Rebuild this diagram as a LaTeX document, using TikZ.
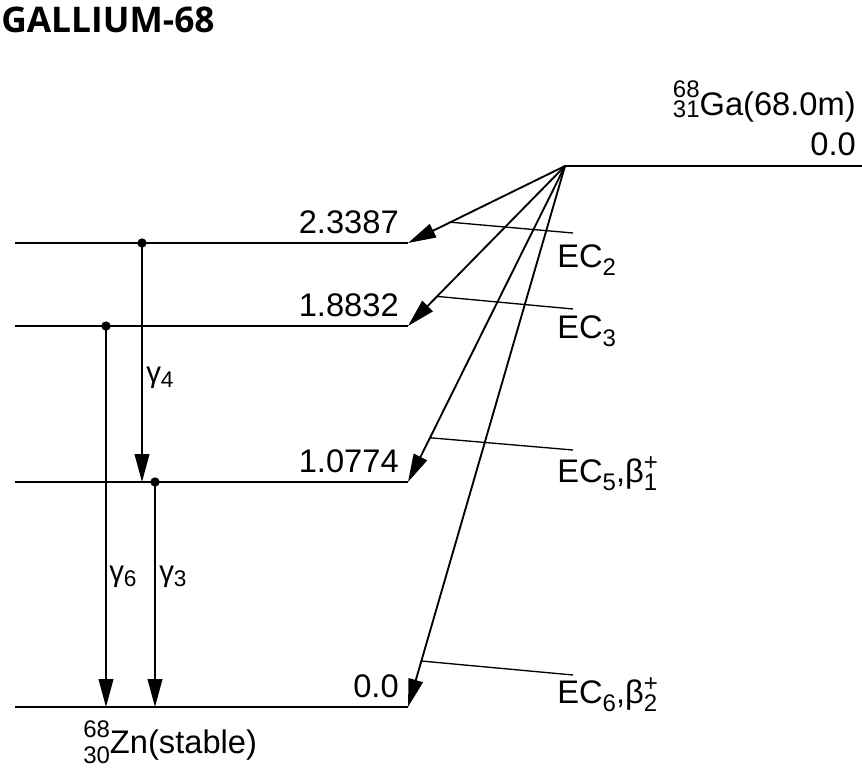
\documentclass[tikz,border=0pt]{standalone}
\usepackage{fontspec}
\setmainfont{Liberation Sans}
\newfontfamily\titlefont{Open Sans}
\usetikzlibrary{arrows.meta,calc}
\newcommand{\iso}[4]{{\fontsize{18}{18}\selectfont\rlap{\raisebox{#3}{#1}}\raisebox{#4}{#2}}}
\newcommand{\sbs}[1]{{\fontsize{18}{18}\selectfont\raisebox{-6pt}{#1}}}
\newcommand{\bp}[1]{β{\fontsize{18}{18}\selectfont\rlap{\raisebox{9pt}{+}}\raisebox{-6pt}{#1}}}
\newcommand{\gam}[1]{γ{\fontsize{17}{17}\selectfont\raisebox{-4pt}{#1}}}
\tikzset{lev/.style={line width=1.5pt},
 dec/.style={line width=1.4pt,-{Triangle[length=21pt,width=11pt]}},
 ldr/.style={line width=1pt},
 dot/.style={circle,fill,inner sep=0pt,minimum size=7pt},
 glab/.style={anchor=base west,font=\fontsize{22}{22}\selectfont},
 every node/.style={font=\fontsize{24.5}{24.5}\selectfont,inner sep=0pt}}
\begin{document}
\begin{tikzpicture}[x=.75pt,y=-.75pt]
\useasboundingbox (0,0) rectangle (862,770);
\node[anchor=base west,font=\titlefont\bfseries\fontsize{26.5}{26.5}\selectfont] (ttl) at (1,33) {GALLIUM-68};
\coordinate (ga) at (565,166);\coordinate (gr) at (862,166);
\draw[lev] (ga)--(gr);
\node[anchor=base east] (gaE) at (856,156) {0.0};
\node[anchor=base east] (gaN) at (856,116) {\iso{68}{31}{14pt}{-1pt}Ga(68.0m)};
\foreach \n/\y/\e in {a/243/2.3387,b/326/1.8832,c/482/1.0774,d/707/0.0}{
 \coordinate (\n0) at (15,\y);\coordinate (\n1) at (408,\y);
 \draw[lev] (\n0)--(\n1);\node[anchor=base east] (lb\n) at (399,\y-10) {\e};}
\draw[dec] (ga)--coordinate[pos=.73] (ma) (a1);
\draw[dec] (ga)--coordinate[pos=.815] (mb) (b1);
\draw[dec] (ga)--coordinate[pos=.86] (mc) (c1);
\draw[dec] (ga)--coordinate[pos=.915] (md) (d1);
\node[anchor=base west] (eca) at (557,267) {EC\sbs{2}};
\node[anchor=base west] (ecb) at (557,338) {EC\sbs{3}};
\node[anchor=base west] (ecc) at (557,482) {EC\sbs{5},\bp{1}};
\node[anchor=base west] (ecd) at (557,703) {EC\sbs{6},\bp{2}};
\coordinate (ta) at (573,233);\coordinate (tb) at (573,309);
\coordinate (tc) at (573,450);\coordinate (td) at (573,675);
\foreach \n in {a,b,c,d}{\draw[ldr] (m\n)--(t\n);}
\node[dot] (g4s) at (142,243) {};\coordinate (g4e) at (142,482);
\node[dot] (g6s) at (106,326) {};\coordinate (g6e) at (106,707);
\node[dot] (g3s) at (155,482) {};\coordinate (g3e) at (155,707);
\foreach \g in {4,6,3}{\draw[dec] (g\g s.center)--(g\g e);}
\node[glab] (l4) at (146,382) {\gam{4}};
\node[glab] (l6) at (109,581) {\gam{6}};
\node[glab] (l3) at (159,581) {\gam{3}};
\node[anchor=base west] (zn) at (83,753) {\iso{68}{30}{12pt}{-7.5pt}Zn(stable)};
\end{tikzpicture}
\end{document}
